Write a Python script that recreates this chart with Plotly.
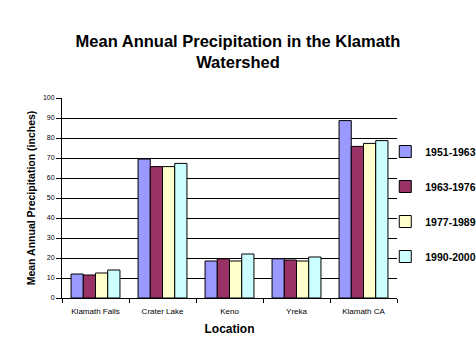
import plotly.graph_objects as go

locations = ["Klamath Falls", "Crater Lake", "Keno", "Yreka", "Klamath CA"]
periods = ["1951-1963", "1963-1976", "1977-1989", "1990-2000"]
p1951_1963 = [12.0, 69.5, 18.5, 19.6, 88.7]
p1963_1976 = [11.5, 65.7, 19.6, 19.0, 75.8]
p1977_1989 = [12.5, 65.7, 18.5, 18.5, 77.3]
p1990_2000 = [14.0, 67.3, 22.0, 20.5, 78.7]
series = [p1951_1963, p1963_1976, p1977_1989, p1990_2000]
colors = ["#9999FF", "#993366", "#FFFFCC", "#CCFFFF"]
y_ticks = [0, 10, 20, 30, 40, 50, 60, 70, 80, 90, 100]

fig = go.Figure()
for name, vals, col in zip(periods, series, colors):
    fig.add_trace(go.Bar(
        x=locations, y=vals, name="<b>" + name + "</b>", legendgroup=name,
        marker=dict(color=col, line=dict(color="black", width=1)),
    ))

fig.update_layout(
    width=476, height=356,
    margin=dict(l=62, r=79, t=98, b=58, autoexpand=False),
    paper_bgcolor="white", plot_bgcolor="white",
    font=dict(family="Liberation Sans, Arial, sans-serif", color="black"),
    title=dict(
        text="<b>Mean Annual Precipitation in the Klamath<br>Watershed</b>",
        x=0.5, xanchor="center", y=0.868, yanchor="middle",
        font=dict(size=16.5, color="black"),
    ),
    barmode="group", bargap=0.27, bargroupgap=0,
    showlegend=True,
    legend=dict(
        x=0.965, xanchor="left", y=0.47, yanchor="middle",
        bgcolor="rgba(0,0,0,0)", tracegroupgap=16,
        font=dict(size=10.5, family="Liberation Sans, Arial, sans-serif"),
        itemwidth=30,
    ),
    xaxis=dict(
        title=dict(text="<b>Location</b>", font=dict(size=12), standoff=10),
        tickfont=dict(size=8), ticks="outside", tickson="boundaries",
        ticklen=4, tickcolor="black", showline=True, linecolor="black",
        linewidth=1, showgrid=False, ticklabelstandoff=5,
    ),
    yaxis=dict(
        title=dict(text="<b>Mean Annual Precipitation (inches)</b>", font=dict(size=10.5), standoff=5),
        range=[0, 100], tickvals=y_ticks, tickfont=dict(size=7),
        ticks="outside", ticklen=5, tickcolor="black",
        showline=True, linecolor="black", linewidth=1,
        showgrid=True, gridcolor="black", gridwidth=1, zeroline=False,
    ),
)

fig.write_html(
    "out.html",
    config={"displayModeBar": False},
    post_script="document.body.style.margin='0';document.body.style.overflow='hidden';",
)
